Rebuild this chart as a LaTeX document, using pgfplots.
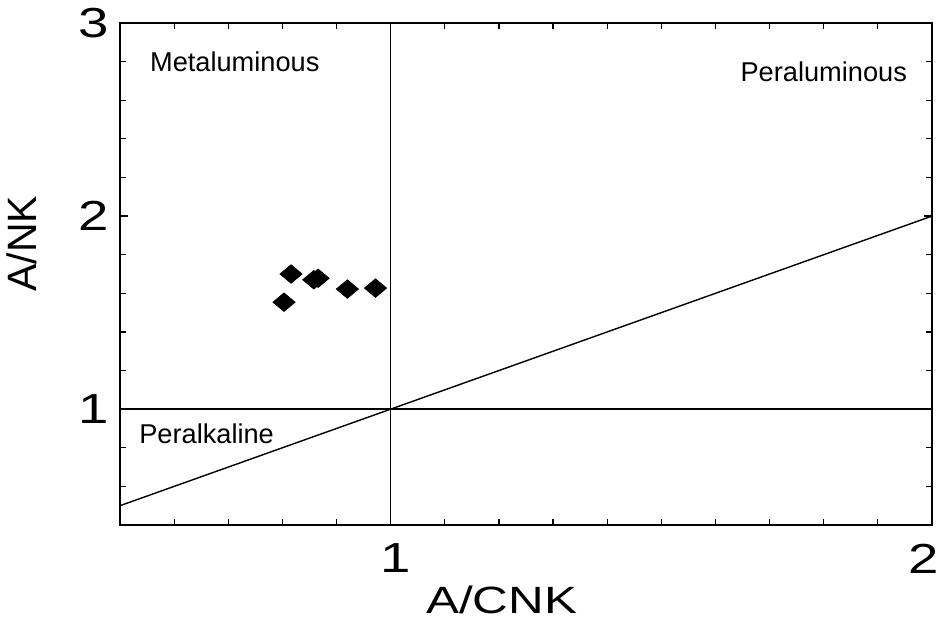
\documentclass[border=0pt]{standalone}
\usepackage{pgfplots}
\pgfplotsset{compat=1.18}
\usepackage{fontspec}
\setmainfont{Liberation Sans}
\begin{document}
\begin{tikzpicture}
\begin{axis}[
  scale only axis,
  width=406pt, height=251pt,
  xmin=0.5, xmax=2, ymin=0.4, ymax=3,
  axis line style={line width=1pt},
  xtick={1,2}, ytick={1,2,3},
  minor xtick={0.6,0.7,0.8,0.9,1.1,1.2,1.3,1.4,1.5,1.6,1.7,1.8,1.9},
  minor ytick={0.6,0.8,1.2,1.4,1.6,1.8,2.2,2.4,2.6,2.8},
  tick align=inside,
  major tick length=4pt, minor tick length=3pt,
  every tick/.style={black, line width=0.6pt},
  xticklabels={\makebox[0pt]{\hspace{5pt}\scalebox{1.3}[1]{1}},\makebox[0pt]{\scalebox{1.3}[1]{2}\hspace{8pt}}},
  yticklabels={\scalebox{1.3}[1]{1},\scalebox{1.3}[1]{2},\scalebox{1.3}[1]{3}},
  ticklabel style={font=\fontsize{21}{24}\selectfont},
  xticklabel style={yshift=-6pt},
  yticklabel style={xshift=-2pt},
  xlabel={\scalebox{1.3}[1]{A/CNK}},
  ylabel={A/NK},
  xlabel style={font=\fontsize{19}{22}\selectfont, at={(axis description cs:0.47,0)}, anchor=north, yshift=-27pt},
  ylabel style={font=\fontsize{20.5}{24}\selectfont, at={(axis description cs:0,0.56)}, anchor=south, yshift=38pt},
  clip=false,
]
\addplot[black, line width=0.7pt] coordinates {(0.5,0.5) (2,2)};
\addplot[black, line width=0.7pt] coordinates {(0.5,1) (2,1)};
\addplot[black, line width=0.7pt] coordinates {(1,0.4) (1,3)};
\addplot[only marks, mark=diamond*, mark size=4.6pt, mark options={fill=black, draw=black, xscale=1.6}]
 coordinates {
 (0.816,1.70)
 (0.858,1.670)
 (0.866,1.678)
 (0.920,1.622)
 (0.972,1.627)
 (0.803,1.554)
 };
\node[font=\fontsize{13.6}{16}\selectfont] at (axis cs:0.712,2.80) {Metaluminous};
\node[font=\fontsize{13.6}{16}\selectfont] at (axis cs:1.80,2.746) {Peraluminous};
\node[font=\fontsize{13.6}{16}\selectfont] at (axis cs:0.66,0.87) {Peralkaline};
\end{axis}
\path ([shift={(-60pt,-42pt)}]current axis.south west) rectangle ([shift={(6.5pt,11.5pt)}]current axis.north east);
\end{tikzpicture}
\end{document}
